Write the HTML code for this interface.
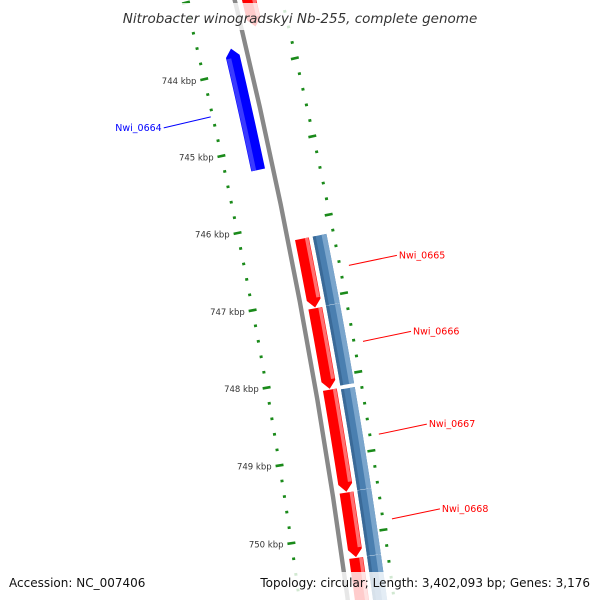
<!DOCTYPE html>
<html><head><meta charset="utf-8"><style>
html,body{margin:0;padding:0;background:#fff;width:600px;height:600px;overflow:hidden;}
svg{display:block;font-family:"DejaVu Sans","Liberation Sans",sans-serif;overflow:hidden;}
</style></head><body>
<svg id="map" width="600" height="600" viewBox="0 0 600 600">
<g id="tracks"></g>
<g id="labels"></g>
<rect x="112" y="3" width="376" height="27" fill="#fff" fill-opacity="0.8"/>
<text x="300" y="23" text-anchor="middle" font-size="13.5" font-style="italic" fill="#333">Nitrobacter winogradskyi Nb-255, complete genome</text>
<rect x="4" y="572" width="148" height="28" fill="#fff" fill-opacity="0.8"/>
<text x="9" y="587" font-size="12" fill="#111">Accession: NC_007406</text>
<rect x="255" y="572" width="341" height="28" fill="#fff" fill-opacity="0.8"/>
<text x="590" y="587" text-anchor="end" font-size="12" fill="#111">Topology: circular; Length: 3,402,093 bp; Genes: 3,176</text>
</svg>
<script>
// ---- data (kbp) ----
const geneNames = ["Nwi_0663","Nwi_0664","Nwi_0665","Nwi_0666","Nwi_0667","Nwi_0668","Nwi_0669"];
const geneStarts = [742.60, 743.70, 746.23, 747.12, 748.16, 749.47, 750.30];
const geneEnds   = [743.50, 745.27, 747.11, 748.15, 749.46, 750.29, 751.40];
const geneStrands = [1, -1, 1, 1, 1, 1, 1];
const geneLabeled = [false, true, true, true, true, true, false];
const cdsStarts = [746.23, 747.115, 748.18, 749.465, 750.30];
const cdsEnds   = [747.11, 748.13, 749.46, 750.295, 751.40];
const tickLabels = [744, 745, 746, 747, 748, 749, 750];

// ---- geometry ----
const CX=-5372, CY=1367, R=5771;
const A0=-10.64, K=0.788, REF=747;
function ang(kb){return (A0+K*(kb-REF))*Math.PI/180;}
function pt(kb,r){const a=ang(kb);return [CX+r*Math.cos(a),CY+r*Math.sin(a)];}
const NS="http://www.w3.org/2000/svg";
const tracks=document.getElementById('tracks');
const labels=document.getElementById('labels');
function mk(tag,attrs,parent){const e=document.createElementNS(NS,tag);for(const k in attrs)e.setAttribute(k,attrs[k]);parent.appendChild(e);return e;}
function band(s,e,r1,r2){const p=[];const n=8;for(let i=0;i<=n;i++){p.push(pt(s+(e-s)*i/n,r2));}for(let i=n;i>=0;i--){p.push(pt(s+(e-s)*i/n,r1));}return p;}
function arrow(s,e,r1,r2,strand){const al=0.1,rc=(r1+r2)/2,p=[];const n=8;
 if(strand>0){const b=e-al;for(let i=0;i<=n;i++)p.push(pt(s+(b-s)*i/n,r2));p.push(pt(e,rc));for(let i=n;i>=0;i--)p.push(pt(s+(b-s)*i/n,r1));}
 else{const b=s+al;p.push(pt(s,rc));for(let i=0;i<=n;i++)p.push(pt(b+(e-b)*i/n,r2));for(let i=n;i>=0;i--)p.push(pt(b+(e-b)*i/n,r1));}
 return p;}
function ps(p){return p.map(q=>q[0].toFixed(2)+","+q[1].toFixed(2)).join(" ");}

// backbone
const bb=mk('polygon',{points:ps(band(742,752,R-2.2,R+2.2)),fill:'#888'},tracks);



// ticks
for(let t=742.0;t<=751.01;t+=0.2){
 const kb=Math.round(t*10)/10;const major=Math.abs(kb-Math.round(kb))<0.01;
 const l1=pt(kb,major?R-52:R-49.5),l2=pt(kb,major?R-44:R-46.5);
 const tl=mk('line',{x1:l1[0],y1:l1[1],x2:l2[0],y2:l2[1],stroke:'#1a8a1a','stroke-width':2.6},tracks);
 
 
 const o1=pt(kb,major?R+41:R+44.5),o2=pt(kb,major?R+49:R+47.5);
 const to=mk('line',{x1:o1[0],y1:o1[1],x2:o2[0],y2:o2[1],stroke:'#1a8a1a','stroke-width':2.6},tracks);
 
 
}
tickLabels.forEach(kb=>{const p=pt(kb,R-56);
 const tx=mk('text',{x:p[0],y:p[1]+3,'text-anchor':'end','font-size':8.5,fill:'#333'},tracks);
 tx.textContent=kb+" kbp";
 
 });

// CDS track (steel blue)
cdsStarts.forEach((s,i)=>{
 const g=mk('polygon',{points:ps(band(s,cdsEnds[i],R+25,R+39)),fill:'#4a7fb0'},tracks);
 
 
 const h=mk('polygon',{points:ps(band(s,cdsEnds[i],R+34,R+39)),fill:'#7aa5cc'},tracks);
 
 
 const d=mk('polygon',{points:ps(band(s,cdsEnds[i],R+25,R+28)),fill:'#3a6a98'},tracks);
 
 
});

// genes
geneNames.forEach((nm,i)=>{
 const s=geneStarts[i],e=geneEnds[i],st=geneStrands[i];
 const rc=st>0?R+14:R-15;const r1=rc-7,r2=rc+7;
 const col=st>0?'#ff0000':'#0000ff';
 const g=mk('polygon',{points:ps(arrow(s,e,r1,r2,st)),fill:col},tracks);
 
 
 const hl=st>0?[rc+3,r2-0.5,'#ff7070']:[r1+0.5,rc-2,'#3a3aff'];
 const hs=st>0?s:s+0.12, he=st>0?e-0.12:e;
 const h=mk('polygon',{points:ps(band(hs,he,hl[0],hl[1])),fill:hl[2]},tracks);
 
 
 if(geneLabeled[i]){
  const mid=(s+e)/2;
  const a=pt(mid,st>0?R+55:R-50);
  const b=st>0?[a[0]+48,a[1]-10]:[a[0]-47,a[1]+11];
  const ln=mk('line',{x1:a[0],y1:a[1],x2:b[0],y2:b[1],stroke:col,'stroke-width':1},labels);
  
  
  const tx=mk('text',{x:st>0?b[0]+2:b[0]-2,y:b[1]+3,'text-anchor':st>0?'start':'end','font-size':9.5,fill:col},labels);
  tx.textContent=nm;
  
  
 }
});
</script>
</body></html>
